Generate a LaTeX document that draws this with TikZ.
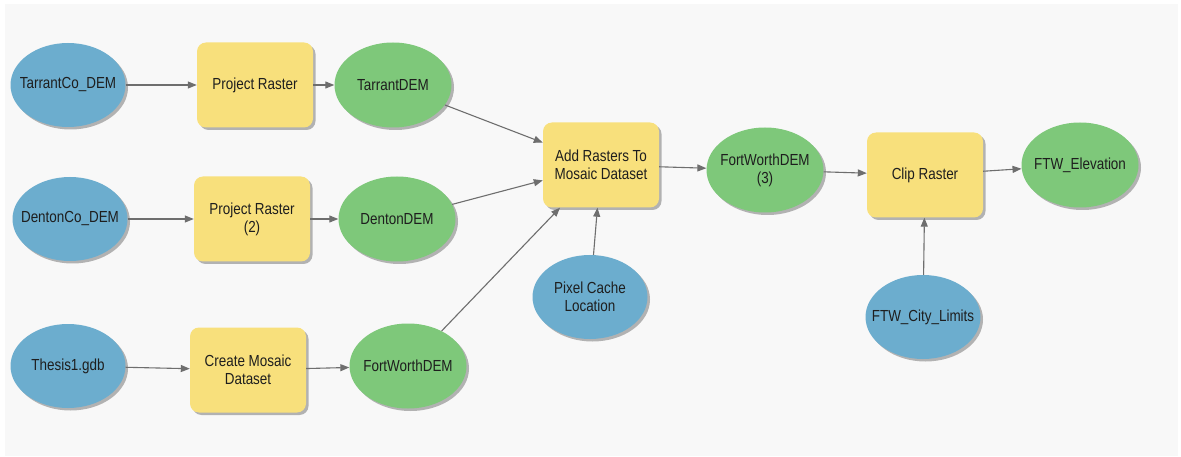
\documentclass[tikz,border=0pt]{standalone}
\usepackage{fontspec}
\setmainfont{Liberation Sans}[FakeStretch=0.84]
\usetikzlibrary{arrows.meta,shadows,shapes.geometric}
\definecolor{panel}{HTML}{F8F8F8}
\definecolor{inblue}{HTML}{6CADCE}
\definecolor{outgreen}{HTML}{7EC87A}
\definecolor{toolyellow}{HTML}{F8E07C}
\definecolor{linkgrey}{HTML}{6E6E6E}
\definecolor{txt}{HTML}{1E1E1E}
\begin{document}
\begin{tikzpicture}[x=1pt,y=-1pt,
  every node/.style={font=\fontsize{16}{18}\selectfont, text=txt, align=center, inner sep=0pt},
  shade/.style={drop shadow={shadow xshift=2.5pt, shadow yshift=-2.5pt, fill=black, opacity=0.28}},
  % fixed-size ellipses: negative inner sep keeps the text from enlarging them
  inputvar/.style={ellipse, inner xsep=-14pt, inner ysep=-10pt, minimum width=115pt, minimum height=84pt, fill=inblue, shade},
  outputvar/.style={ellipse, inner xsep=-14pt, inner ysep=-10pt, minimum width=117pt, minimum height=85pt, fill=outgreen, shade},
  toolbox/.style={rectangle, rounded corners=9pt, minimum width=116pt, minimum height=85pt, fill=toolyellow, shade},
  link/.style={draw=linkgrey, line width=1.1pt, -{Triangle[length=9pt,width=7pt]}}
]
\useasboundingbox (0,0) rectangle (1181,457);
\fill[white] (0,0) rectangle (1181,457);
\fill[panel] (5,4) rectangle (1178,456);

% row 1
\node[inputvar]  (tco)  at (68,85)   {TarrantCo\_DEM};
\node[toolbox]   (pr1)  at (255,85)  {Project Raster};
\node[outputvar] (tdem) at (393,85)  {TarrantDEM};
% row 2
\node[inputvar]  (dco)  at (70,219)  {DentonCo\_DEM};
\node[toolbox]   (pr2)  at (252,219) {Project Raster\\(2)};
\node[outputvar] (ddem) at (397,219) {DentonDEM};
% row 3
\node[inputvar]  (gdb)  at (68,366)  {Thesis1.gdb};
\node[toolbox]   (cmd)  at (248,370) {Create Mosaic\\Dataset};
\node[outputvar] (fdem) at (408,366) {FortWorthDEM};
% mosaic step
\node[toolbox]   (add)  at (601,165) {Add Rasters To\\Mosaic Dataset};
\node[inputvar]  (pcl)  at (590,297) {Pixel Cache\\Location};
\node[outputvar] (fd3)  at (765,170) {FortWorthDEM\\(3)};
% clip step
\node[toolbox]   (clip) at (925,175) {Clip Raster};
\node[inputvar]  (lim)  at (923,317) {FTW\_City\_Limits};
\node[outputvar] (elev) at (1080,165) {FTW\_Elevation};

% connectors
\draw[link] (tco) -- (pr1);
\draw[link] (pr1) -- (tdem);
\draw[link] (dco) -- (pr2);
\draw[link] (pr2) -- (ddem);
\draw[link] (gdb) -- (cmd);
\draw[link] (cmd) -- (fdem);
\draw[link] (tdem) -- (add);
\draw[link] (ddem) -- (add);
\draw[link] (fdem) -- (add);
\draw[link] (pcl) -- (add);
\draw[link] (add) -- (fd3);
\draw[link] (fd3) -- (clip);
\draw[link] (lim) -- (clip);
\draw[link] (clip) -- (elev);
\end{tikzpicture}
\end{document}
